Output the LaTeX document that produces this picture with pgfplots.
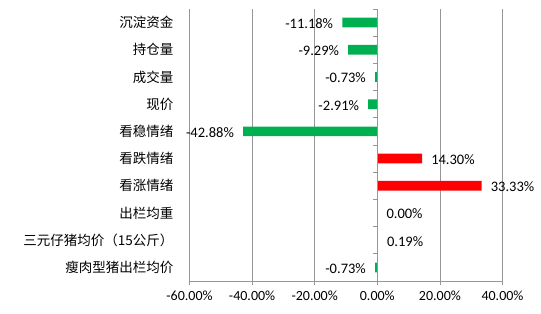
\documentclass[border=0pt]{standalone}
\usepackage{fontspec}
\setmainfont{Carlito}
\newfontfamily\cjk{Noto Sans CJK SC}
\usepackage{pgfplots}
\pgfplotsset{compat=1.18}
\definecolor{gridc}{RGB}{150,150,150}
\definecolor{xgreen}{RGB}{0,176,80}
\definecolor{xred}{RGB}{255,0,0}
\begin{document}
\begin{tikzpicture}
\useasboundingbox (0,0) rectangle (541bp,314bp);
\begin{axis}[
  at={(189.5bp,33bp)}, anchor=south west,
  scale only axis, width=313bp, height=272bp,
  xbar, bar width=9.7bp,
  xmin=-60, xmax=40, xtick={-60,-40,-20,0,20,40},
  ymin=-0.5, ymax=9.5, y dir=reverse,
  ytick={0,...,9},
  yticklabels={沉淀资金,持仓量,成交量,现价,看稳情绪,看跌情绪,看涨情绪,出栏均重,三元仔猪均价（15公斤）,瘦肉型猪出栏均价},
  yticklabel style={font=\cjk\fontsize{13.5bp}{15bp}\selectfont, anchor=east, xshift=-12bp, inner sep=0pt},
  ytick style={draw=none},
  axis x line*=bottom, axis y line*=left,
  y axis line style={draw=none},
  x axis line style={draw=gridc, line width=0.8bp},
  xtick style={draw=gridc, line width=0.8bp},
  tick align=outside, major tick length=4bp,
  xmajorgrids, grid style={draw=gridc, line width=0.8bp},
  /pgf/number format/assume math mode=true,
  xticklabel={\pgfmathprintnumber[fixed,fixed zerofill,precision=2]{\tick}\%},
  xticklabel style={font=\fontsize{14bp}{16bp}\selectfont, yshift=-2bp},
  point meta=x,
  clip=false,
]
\addplot[draw=none, fill=xgreen, bar shift=0pt,
  nodes near coords={\pgfmathprintnumber[fixed,fixed zerofill,precision=2]{\pgfplotspointmeta}\%},
  every node near coord/.append style={font=\fontsize{14.5bp}{16bp}\selectfont, anchor=east, inner sep=0pt, xshift=-9bp, yshift=-1bp, text=black}]
  coordinates {(-11.18,0) (-9.29,1) (-0.73,2) (-2.91,3) (-42.88,4) (-0.73,9)};
\addplot[draw=none, fill=xred, bar shift=0pt,
  nodes near coords={\pgfmathprintnumber[fixed,fixed zerofill,precision=2]{\pgfplotspointmeta}\%},
  every node near coord/.append style={font=\fontsize{14.5bp}{16bp}\selectfont, anchor=west, inner sep=0pt, xshift=9bp, yshift=-1bp, text=black}]
  coordinates {(14.30,5) (33.33,6) (0.00,7) (0.19,8)};
\end{axis}
\begin{axis}[
  at={(189.5bp,33bp)}, anchor=south west,
  scale only axis, width=313bp, height=272bp,
  xmin=-60, xmax=40, ymin=-0.5, ymax=9.5,
  axis x line=none, axis y line=center,
  ytick={-0.5,0.5,...,9.5}, yticklabels={},
  y axis line style={draw=gridc, line width=0.8bp, -},
  ytick style={draw=gridc, line width=0.8bp, xshift=-2bp},
  tick align=center, major tick length=4bp,
]
\end{axis}
\end{tikzpicture}
\end{document}
